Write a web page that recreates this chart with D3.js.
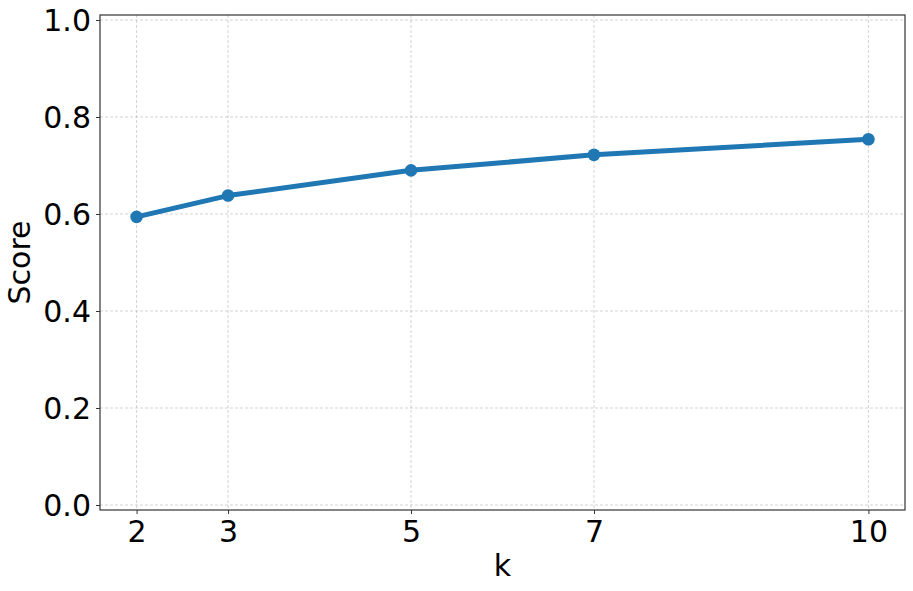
<!DOCTYPE html>
<html>
<head>
<meta charset="utf-8">
<script src="https://cdn.jsdelivr.net/npm/d3@7"></script>
<style>
  body { margin: 0; background: #fff; }
  text { font-family: "DejaVu Sans", sans-serif; fill: #000; }
</style>
</head>
<body>
<div id="chart"></div>
<script>
// donnees
var kValues = [2, 3, 5, 7, 10];
var scores = [0.594, 0.638, 0.690, 0.722, 0.754];
var yTicks = [0.0, 0.2, 0.4, 0.6, 0.8, 1.0];

var W = 913, H = 591;
var m = {left: 100, right: 8, top: 15, bottom: 81};

var svg = d3.select('#chart').append('svg').attr('width', W).attr('height', H);

var x = d3.scaleLinear().domain([1.6, 10.4]).range([m.left, W - m.right]);
var y = d3.scaleLinear().domain([-0.0103, 1.0103]).range([H - m.bottom, m.top]);

// grille pointillee
var grid = svg.append('g');
grid.selectAll('line.gx').data(kValues).enter().append('line')
    .attr('x1', function(d){ return x(d); }).attr('x2', function(d){ return x(d); })
    .attr('y1', m.top).attr('y2', H - m.bottom)
    .style('stroke', '#b0b0b0').style('stroke-opacity', 0.7)
    .style('stroke-width', 0.8).style('stroke-dasharray', '3,2');
grid.selectAll('line.gy').data(yTicks).enter().append('line')
    .attr('y1', function(d){ return y(d); }).attr('y2', function(d){ return y(d); })
    .attr('x1', m.left).attr('x2', W - m.right)
    .style('stroke', '#b0b0b0').style('stroke-opacity', 0.7)
    .style('stroke-width', 0.8).style('stroke-dasharray', '3,2');

// axes
var xAxis = svg.append('g').attr('transform', 'translate(0,' + (H - m.bottom) + ')')
    .call(d3.axisBottom(x).tickValues(kValues).tickSize(4).tickPadding(6).tickFormat(d3.format('d')));
var yAxis = svg.append('g').attr('transform', 'translate(' + m.left + ',0)')
    .call(d3.axisLeft(y).tickValues(yTicks).tickSize(4).tickPadding(5).tickFormat(d3.format('.1f')));
[xAxis, yAxis].forEach(function(a){
    a.select('.domain').remove();
    a.selectAll('line').style('stroke', '#333').style('stroke-width', 1);
    a.selectAll('text').style('font-size', '30px').style('font-family', '"DejaVu Sans", sans-serif');
});
xAxis.selectAll('text').attr('dy', '0.72em');
yAxis.selectAll('text').attr('dy', '0.36em');

// cadre
svg.append('rect')
    .attr('x', m.left).attr('y', m.top)
    .attr('width', W - m.right - m.left).attr('height', H - m.bottom - m.top)
    .style('fill', 'none').style('stroke', '#333').style('stroke-width', 1.2);

// courbe + points
var data = kValues.map(function(k, i){ return {k: k, v: scores[i]}; });
svg.append('path').datum(data)
    .attr('d', d3.line().x(function(d){ return x(d.k); }).y(function(d){ return y(d.v); }))
    .style('fill', 'none').style('stroke', '#1f77b4').style('stroke-width', 5)
    .style('stroke-linejoin', 'round').style('stroke-linecap', 'round');
svg.selectAll('circle.pt').data(data).enter().append('circle')
    .attr('cx', function(d){ return x(d.k); }).attr('cy', function(d){ return y(d.v); })
    .attr('r', 6.3).style('fill', '#1f77b4');

// titres des axes
svg.append('text').attr('x', (m.left + W - m.right) / 2).attr('y', 576)
    .attr('text-anchor', 'middle').style('font-size', '30px').text('k');
svg.append('text').attr('transform', 'translate(30,' + ((m.top + H - m.bottom) / 2) + ') rotate(-90)')
    .attr('text-anchor', 'middle').style('font-size', '30px').text('Score');
</script>
</body>
</html>
